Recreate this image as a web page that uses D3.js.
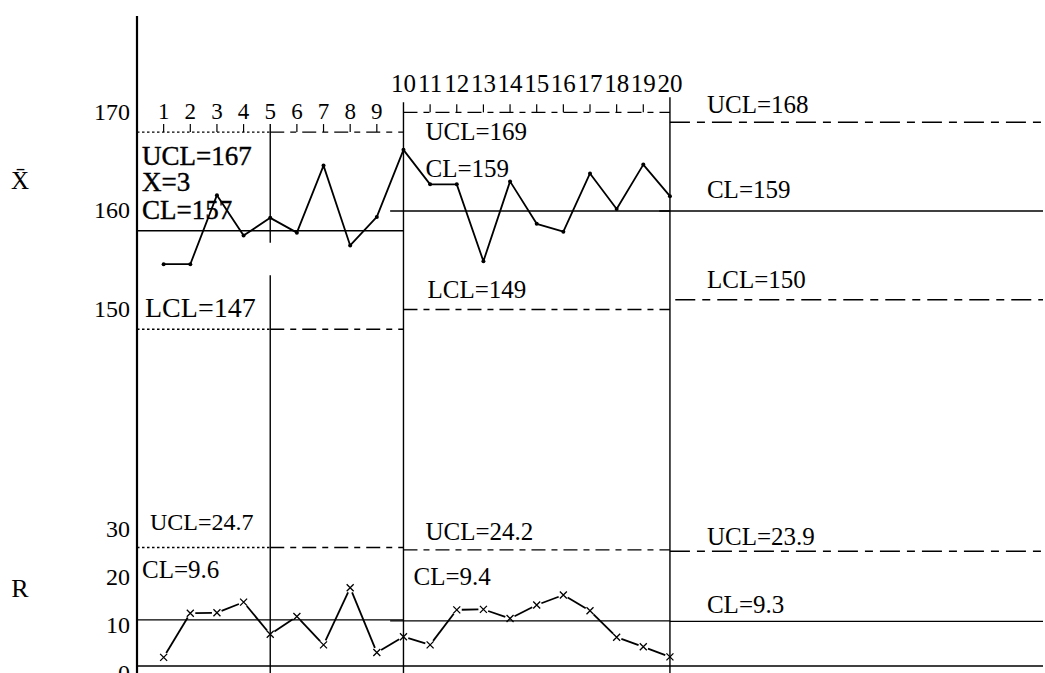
<html lang="en">
<head>
<meta charset="UTF-8">
<title>Xbar - R control chart</title>
<script src="https://cdn.jsdelivr.net/npm/d3@7"></script>
<style>
  body { margin: 0; background: #fff; }
  text { font-family: "Liberation Serif", "DejaVu Serif", serif; fill: #000; }
</style>
</head>
<body>
<svg id="svg"></svg>
<script>
var WIDTH = 1045;
var HEIGHT = 673;

// data
var samples = d3.range(1, 21);
var xbarValues = [153.6, 153.6, 160.6, 156.5, 158.3, 156.8, 163.6, 155.5, 158.4, 165.2,
                  161.7, 161.7, 153.9, 162.0, 157.7, 156.9, 162.8, 159.2, 163.7, 160.5];
var rangeValues = [1.8, 11.0, 11.1, 13.3, 6.6, 10.3, 4.4, 16.3, 2.8, 6.1,
                   4.4, 11.7, 11.8, 9.9, 12.7, 14.8, 11.5, 6.0, 4.0, 1.9];

// control limit phases
var phaseStart = [0, 10, 20];
var phaseEnd = [10, 20, 34];
var xbarUCL = [167, 169, 168];
var xbarCL = [157, 159, 159];
var xbarLCL = [147, 149, 150];
var rUCL = [24.7, 24.2, 23.9];
var rCL = [9.6, 9.4, 9.3];
var splitSample = 5;
var subgroupNote = "X=3";

var xbarTicks = [150, 160, 170];
var rTicks = [0, 10, 20, 30];

var svg = d3.select("#svg")
            .attr("width", WIDTH)
            .attr("height", HEIGHT);

var xScale = d3.scaleLinear().domain([0, 34]).range([137, 1043]);
var yX = d3.scaleLinear().domain([150, 170]).range([299.7, 102.5]);
var yR = d3.scaleLinear().domain([0, 30]).range([666, 522]);

var DOTTED = "2.5,2.5";
var DASHED = "14,6,6,6";
var DASHDOT = "20,7,8,7";

var hline = function(y, s1, s2, dash, w){
    svg.append("line")
       .attr("x1", xScale(s1)).attr("x2", xScale(s2))
       .attr("y1", y).attr("y2", y)
       .attr("stroke", "#000")
       .attr("stroke-width", w || 1.4)
       .attr("stroke-dasharray", dash || null);
};

var vline = function(s, y1, y2, w){
    svg.append("line")
       .attr("x1", xScale(s)).attr("x2", xScale(s))
       .attr("y1", y1).attr("y2", y2)
       .attr("stroke", "#000")
       .attr("stroke-width", w || 1.4);
};

var label = function(x, y, txt, size, heavy){
    svg.append("text")
       .attr("x", x).attr("y", y)
       .attr("font-size", size)
       .attr("stroke", heavy ? "#000" : null)
       .attr("stroke-width", heavy ? 0.4 : null)
       .text(txt);
};

// main vertical axis line
svg.append("line")
   .attr("x1", xScale(0)).attr("x2", xScale(0))
   .attr("y1", 16).attr("y2", HEIGHT)
   .attr("stroke", "#000").attr("stroke-width", 2.2);

// tick labels
var xAxis = svg.append("g")
   .attr("transform", "translate(" + xScale(0) + ",0)")
   .call(d3.axisLeft(yX).tickValues(xbarTicks).tickSize(0).tickPadding(7));
xAxis.select(".domain").remove();
xAxis.attr("font-size", 24).attr("font-family", null);
xAxis.selectAll("text").attr("dy", "0.7em");

var rAxis = svg.append("g")
   .attr("transform", "translate(" + xScale(0) + ",0)")
   .call(d3.axisLeft(yR).tickValues(rTicks).tickSize(0).tickPadding(7));
rAxis.select(".domain").remove();
rAxis.attr("font-size", 24).attr("font-family", null);
rAxis.selectAll("text").attr("dy", "0.6em");

// chart names
svg.append("text").attr("x", 20).attr("y", 189).attr("text-anchor", "middle")
   .attr("font-size", 25).text("X\u0304");
svg.append("text").attr("x", 20).attr("y", 597).attr("text-anchor", "middle")
   .attr("font-size", 26).text("R");

// control lines, phase 1 (split into dotted and dashed parts)
hline(yX(xbarUCL[0]), phaseStart[0], splitSample, DOTTED);
hline(yX(xbarUCL[0]), splitSample, phaseEnd[0], DASHED);
hline(yX(xbarCL[0]), phaseStart[0], phaseEnd[0]);
hline(yX(xbarLCL[0]), phaseStart[0], splitSample, DOTTED);
hline(yX(xbarLCL[0]), splitSample, phaseEnd[0], DASHED);
hline(yR(rUCL[0]), phaseStart[0], splitSample, DOTTED);
hline(yR(rUCL[0]), splitSample, phaseEnd[0], DASHED);
hline(yR(rCL[0]), phaseStart[0], phaseEnd[0]);

// phase 2
hline(yX(xbarUCL[1]), phaseStart[1], phaseEnd[1], DASHED);
hline(yX(xbarCL[1]), phaseStart[1] - 0.5, phaseEnd[1]);
hline(yX(xbarLCL[1]), phaseStart[1], phaseEnd[1], DASHED);
hline(yR(rUCL[1]), phaseStart[1], phaseEnd[1], DASHED);
hline(yR(rCL[1]), phaseStart[1] - 0.5, phaseEnd[1]);

// phase 3
hline(yX(xbarUCL[2]), phaseStart[2], phaseEnd[2], DASHDOT);
hline(yX(xbarCL[2]), phaseStart[2] - 0.4, phaseEnd[2]);
hline(yX(xbarLCL[2]), phaseStart[2] + 0.2, phaseEnd[2], DASHDOT);
hline(yR(rUCL[2]), phaseStart[2], phaseEnd[2], DASHDOT);
hline(yR(rCL[2]), phaseStart[2], phaseEnd[2]);

// zero line of the R chart
hline(yR(0), 0, 34, null, 1.4);

// phase borders
vline(splitSample, yX(xbarUCL[0]) - 8, yX(xbarCL[0]) + 12);
vline(splitSample, yX(xbarLCL[0]) - 54, HEIGHT);
vline(phaseStart[1], yX(xbarUCL[1]) - 10, HEIGHT);
vline(phaseStart[2], yX(xbarUCL[2]) - 25, HEIGHT);

// sample ticks on the UCL lines and sample numbers
samples.forEach(function(s){
    var p = s <= 10 ? 0 : 1;
    var top = yX(xbarUCL[p]);
    if (s !== splitSample && s !== 10 && s !== 20) {
        svg.append("line")
           .attr("x1", xScale(s)).attr("x2", xScale(s))
           .attr("y1", top).attr("y2", top - 8)
           .attr("stroke", "#000").attr("stroke-width", 1.2);
    }
    var t = s < 10 ? yX(xbarUCL[0]) - 13 : yX(xbarUCL[1]) - 20;
    svg.append("text")
       .attr("x", xScale(s)).attr("y", t)
       .attr("text-anchor", "middle")
       .attr("font-size", s < 10 ? 23 : 25)
       .text(s);
});

// limit labels
label(xScale(0) + 5, yX(xbarUCL[0]) + 33, "UCL=" + xbarUCL[0], 27, true);
label(xScale(0) + 5, yX(xbarUCL[0]) + 59, subgroupNote, 27, true);
label(xScale(0) + 5, yX(xbarCL[0]) - 12, "CL=" + xbarCL[0], 27, true);
label(xScale(0) + 8, yX(xbarLCL[0]) - 12, "LCL=" + xbarLCL[0], 28);

label(xScale(10) + 22, yX(xbarUCL[1]) + 28, "UCL=" + xbarUCL[1], 25);
label(xScale(10) + 22, yX(xbarCL[1]) - 34, "CL=" + xbarCL[1], 25);
label(xScale(10) + 24, yX(xbarLCL[1]) - 12, "LCL=" + xbarLCL[1], 25);

label(xScale(20) + 37, yX(xbarUCL[2]) - 9, "UCL=" + xbarUCL[2], 25);
label(xScale(20) + 37, yX(xbarCL[2]) - 13, "CL=" + xbarCL[2], 25);
label(xScale(20) + 37, yX(xbarLCL[2]) - 12, "LCL=" + xbarLCL[2], 25);

label(xScale(0) + 13, yR(rUCL[0]) - 17, "UCL=" + rUCL[0], 24);
label(xScale(0) + 5, yR(rCL[0]) - 42, "CL=" + rCL[0], 25);
label(xScale(10) + 22, yR(rUCL[1]) - 10, "UCL=" + rUCL[1], 25);
label(xScale(10) + 10, yR(rCL[1]) - 36, "CL=" + rCL[1], 25);
label(xScale(20) + 37, yR(rUCL[2]) - 6, "UCL=" + rUCL[2], 25);
label(xScale(20) + 37, yR(rCL[2]) - 8, "CL=" + rCL[2], 25);

// X-bar line
var xbarLine = d3.line()
    .x(function(d, i){ return xScale(samples[i]); })
    .y(function(d){ return yX(d); });

svg.append("path")
   .datum(xbarValues)
   .attr("d", xbarLine)
   .attr("fill", "none")
   .attr("stroke", "#000")
   .attr("stroke-width", 1.8)
   .attr("stroke-linejoin", "round");

svg.selectAll("circle.xbar")
   .data(xbarValues)
   .enter()
   .append("circle")
   .attr("class", "xbar")
   .attr("cx", function(d, i){ return xScale(samples[i]); })
   .attr("cy", function(d){ return yX(d); })
   .attr("r", 2);

// R line: segments stop short of the crosses
var gap = 5;
rangeValues.forEach(function(d, i){
    if (i === rangeValues.length - 1) return;
    var x1 = xScale(samples[i]), y1 = yR(d);
    var x2 = xScale(samples[i + 1]), y2 = yR(rangeValues[i + 1]);
    var len = Math.sqrt((x2 - x1) * (x2 - x1) + (y2 - y1) * (y2 - y1));
    var ux = (x2 - x1) / len, uy = (y2 - y1) / len;
    svg.append("line")
       .attr("x1", x1 + ux * gap).attr("y1", y1 + uy * gap)
       .attr("x2", x2 - ux * gap).attr("y2", y2 - uy * gap)
       .attr("stroke", "#000")
       .attr("stroke-width", 1.8);
});

svg.selectAll("path.cross")
   .data(rangeValues)
   .enter()
   .append("path")
   .attr("class", "cross")
   .attr("transform", function(d, i){
       return "translate(" + xScale(samples[i]) + "," + yR(d) + ")";
   })
   .attr("d", "M-3.5,-3.5L3.5,3.5M-3.5,3.5L3.5,-3.5")
   .attr("stroke", "#000")
   .attr("stroke-width", 1.3);
</script>
</body>
</html>
